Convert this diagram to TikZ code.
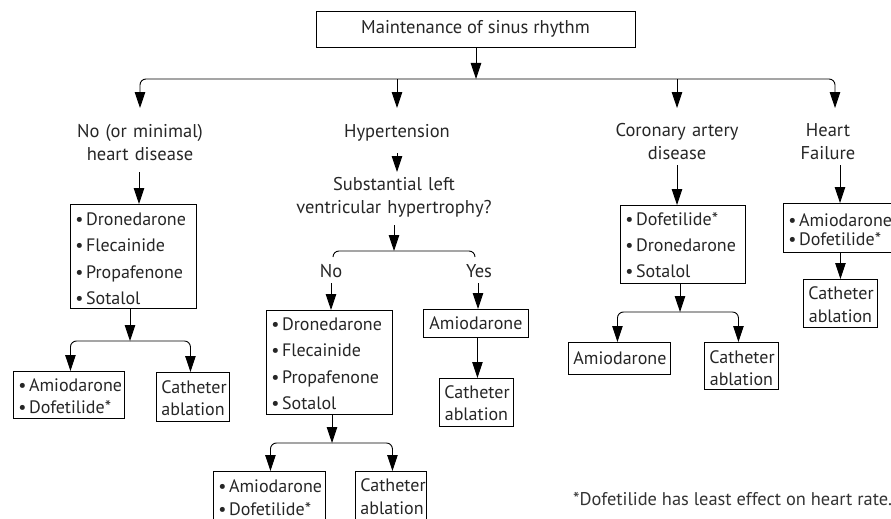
\documentclass[tikz,border=0pt]{standalone}
\usepackage{fontspec}
\setmainfont{PT Sans}
\usetikzlibrary{arrows.meta}
\newcommand\bi[1]{\mbox{\textbullet\hspace{2.5pt}#1}}
\begin{document}
\begin{tikzpicture}[x=1pt,y=-1pt,
  every node/.style={font=\fontsize{18.5}{23.5}\selectfont, text=black!85},
  bx/.style={draw=black, line width=0.9pt, inner xsep=5pt, inner ysep=0pt, anchor=north west, align=left},
  four/.style={font=\fontsize{18}{26.3}\selectfont},
  two/.style={font=\fontsize{18}{22}\selectfont},
  one/.style={font=\fontsize{18}{22}\selectfont, align=center},
  lbl/.style={inner sep=0pt, align=center, anchor=north, text width=240pt},
  arr/.style={draw=black, line width=0.9pt, -{Triangle[length=16pt,width=10.5pt]}},
  ln/.style={draw=black, line width=0.9pt},
]
\useasboundingbox (0,0) rectangle (891,519);

% top
\node[draw=black, line width=0.9pt, minimum width=319pt, minimum height=36pt, inner sep=0pt] (top) at (475.5,29) {Maintenance of sinus rhythm};
\coordinate (j0) at (476,79);

% category labels (north = arrow tip, south = arrow start)
\node[lbl, text height=29pt, text depth=35pt] (L1) at (140,108) {No (or minimal)\\heart disease};
\node[lbl, text height=29pt, text depth=16pt] (L2) at (397,108) {Hypertension};
\node[lbl, text height=18pt, text depth=35pt, font=\fontsize{18.5}{23}\selectfont] (L2b) at (394,172) {Substantial left\\ventricular hypertrophy?};
\node[lbl, text height=28pt, text depth=29pt] (L3) at (677,108) {Coronary artery\\disease};
\node[lbl, text height=28pt, text depth=29pt] (L4) at (828,108) {Heart\\Failure};
\node[lbl, text height=20pt, text depth=6pt] (No) at (331,257) {No};
\node[lbl, text height=20pt, text depth=6pt] (Yes) at (479,257) {Yes};

% boxes
\node[bx, four, text width=116pt, text height=21pt, text depth=83pt] (B1) at (70,204) {\bi{Dronedarone}\\\bi{Flecainide}\\\bi{Propafenone}\\\bi{Sotalol}};
\node[bx, two, text width=101pt, text height=20pt, text depth=27pt] (B1a) at (13,371) {\bi{Amiodarone}\\\bi{Dofetilide*}};
\node[bx, two, text width=63pt, text height=21pt, text depth=28pt, align=center] (B1b) at (156,372) {Catheter\\ablation};

\node[bx, four, text width=116pt, text height=20pt, text depth=84pt] (B2) at (266,310) {\bi{Dronedarone}\\\bi{Flecainide}\\\bi{Propafenone}\\\bi{Sotalol}};
\node[bx, font=\fontsize{18}{23}\selectfont, text width=102pt, text height=21pt, text depth=31pt] (B2a) at (213,471) {\bi{Amiodarone}\\\bi{Dofetilide*}};
\node[bx, font=\fontsize{18}{23}\selectfont, text width=61pt, text height=20pt, text depth=32pt, align=center] (B2b) at (355,471) {Catheter\\ablation};

\node[bx, one, text width=95pt, text height=20pt, text depth=8pt] (B3) at (423,309) {Amiodarone};
\node[bx, two, text width=64pt, text height=20pt, text depth=28pt, align=center] (B3b) at (439,378) {Catheter\\ablation};

\node[bx, four, text width=115pt, text height=20pt, text depth=58pt, font=\fontsize{18}{26}\selectfont] (B4) at (620,205) {\bi{Dofetilide*}\\\bi{Dronedarone}\\\bi{Sotalol}};
\node[bx, one, text width=92pt, text height=22.5pt, text depth=9.5pt] (B4a) at (568,342) {Amiodarone};
\node[bx, two, text width=64pt, text height=21pt, text depth=26pt, align=center] (B4b) at (704,342) {Catheter\\ablation};

\node[bx, font=\fontsize{18}{19.5}\selectfont, text width=115pt, text height=23pt, text depth=26pt] (B5) at (783,203) {\bi{Amiodarone}\\\bi{Dofetilide*}};
\node[bx, font=\fontsize{18}{23}\selectfont, text width=64pt, text height=20pt, text depth=28pt, align=center] (B5b) at (803,279) {Catheter\\ablation};

% footnote
\node[anchor=base west, inner sep=0pt, text=black!80, font=\fontsize{18.4}{22}\selectfont] (fn) at (573,505) {*Dofetilide has least effect on heart rate.};

% top level connectors
\draw[arr] (top.south -| j0) -- (j0);
\draw[arr, rounded corners=6pt] (j0) -| (L1.north);
\draw[arr, rounded corners=6pt] (j0) -| ([xshift=7pt]L4.north);
\draw[arr] (L2.north |- j0) -- (L2.north);
\draw[arr] (L3.north |- j0) -- (L3.north);

% left column
\draw[arr] ([xshift=-1pt]L1.south) -- ([xshift=-1pt]L1.south |- B1.north);
\coordinate (j1) at (130,341);
\draw[arr] (B1.south -| j1) -- (j1);
\draw[arr, rounded corners=6pt] (j1) -| ([xshift=1.5pt]B1a.north);
\draw[arr, rounded corners=6pt] (j1) -| ([xshift=-2.5pt]B1b.north);

% hypertension column
\draw[arr] (L2.south) -- (L2.south |- L2b.north);
\coordinate (j2) at (394,251);
\draw[arr] (L2b.south -| j2) -- (j2);
\draw[ln, rounded corners=6pt] ([xshift=2pt]No.north) |- (j2) -| ([xshift=-4pt]Yes.north);
\draw[arr] (No.south) -- (No.south |- B2.north);
\draw[arr] ([xshift=-1pt]Yes.south) -- ([xshift=-1pt]Yes.south |- B3.north);
\draw[arr] ([xshift=1.5pt]B3.south) -- ([xshift=1.5pt]B3.south |- B3b.north);
\coordinate (j3) at (332,443);
\draw[arr] (B2.south -| j3) -- (j3);
\draw[arr, rounded corners=6pt] (j3) -| ([xshift=1pt]B2a.north);
\draw[arr, rounded corners=6pt] (j3) -| ([xshift=1.5pt]B2b.north);

% CAD column
\draw[arr] (L3.south) -- (L3.south |- B4.north);
\coordinate (j4) at (680,312);
\draw[arr] (B4.south -| j4) -- (j4);
\draw[arr, rounded corners=6pt] (j4) -| ([xshift=-2pt]B4a.north);
\draw[arr, rounded corners=6pt] (j4) -| ([xshift=-3pt]B4b.north);

% heart failure column
\draw[arr] ([xshift=12pt]L4.south) -- ([xshift=12pt]L4.south |- B5.north);
\draw[arr] (B5.south -| B5b.north) -- (B5b.north);
\end{tikzpicture}
\end{document}
